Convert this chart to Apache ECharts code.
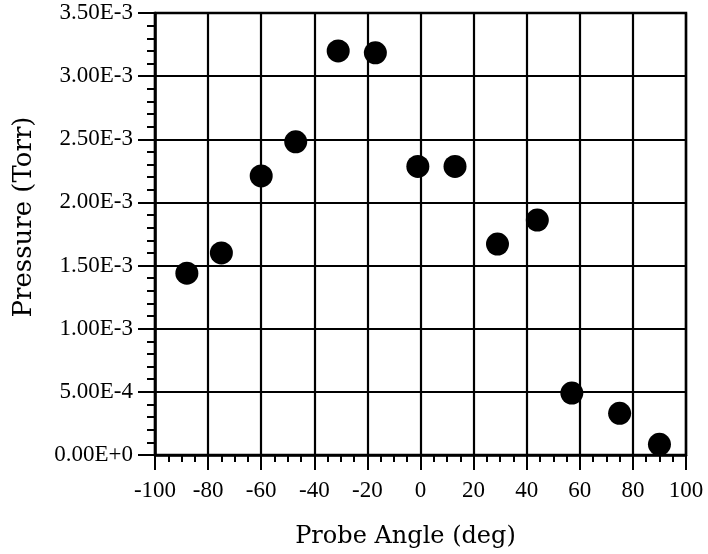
<!DOCTYPE html>
<html>
<head>
<meta charset="utf-8">
<script src="https://cdn.jsdelivr.net/npm/echarts@6/dist/echarts.min.js"></script>
<style>html,body{margin:0;padding:0;background:#fff}#c{width:708px;height:554px}</style>
</head>
<body>
<div id="c"></div>
<script>
// Data
var probeAngle = [-88, -75, -60, -47, -31, -17, -1, 13, 29, 44, 57, 75, 90];
var pressure = [1.44e-3, 1.60e-3, 2.21e-3, 2.48e-3, 3.20e-3, 3.185e-3, 2.285e-3, 2.285e-3, 1.67e-3, 1.86e-3, 4.9e-4, 3.3e-4, 8.5e-5];
var xTicks = [-100, -80, -60, -40, -20, 0, 20, 40, 60, 80, 100];
var yTickLabels = ['0.00E+0','5.00E-4','1.00E-3','1.50E-3','2.00E-3','2.50E-3','3.00E-3','3.50E-3'];

var points = probeAngle.map(function (a, i) { return [a, pressure[i]]; });
var serif = 'Liberation Serif';
var chart = echarts.init(document.getElementById('c'));
chart.setOption({
  backgroundColor: '#fff',
  animation: false,
  grid: { left: 155, right: 22, top: 13, bottom: 93, show: true, borderColor: '#000', borderWidth: 2.5 },
  xAxis: {
    type: 'value', min: -100, max: 100, interval: 20,
    name: 'Probe Angle (deg)', nameLocation: 'middle', nameGap: 70,
    nameTextStyle: { fontFamily: 'DejaVu Serif', fontSize: 24, color: '#000', padding: [0, 30, 0, 0] },
    axisLine: { show: true, onZero: false, lineStyle: { color: '#000', width: 2.5 } },
    axisTick: { show: true, inside: false, length: 15, lineStyle: { color: '#000', width: 2 } },
    minorTick: { show: true, splitNumber: 4, length: 7, lineStyle: { color: '#000', width: 2 } },
    splitLine: { show: true, lineStyle: { color: '#000', width: 2.2 } },
    axisLabel: { margin: 24, fontFamily: serif, fontSize: 23, color: '#000',
      formatter: function (v) { return xTicks.indexOf(Math.round(v)) >= 0 ? String(Math.round(v)) : ''; } }
  },
  yAxis: {
    type: 'value', min: 0, max: 0.0035, interval: 0.0005,
    name: 'Pressure (Torr)', nameLocation: 'middle', nameGap: 118, nameRotate: 90,
    nameTextStyle: { fontFamily: 'DejaVu Serif', fontSize: 26, color: '#000', padding: [0, 0, 0, 34] },
    axisLine: { show: true, onZero: false, lineStyle: { color: '#000', width: 2.5 } },
    axisTick: { show: true, inside: false, length: 17, lineStyle: { color: '#000', width: 2 } },
    minorTick: { show: true, splitNumber: 5, length: 8, lineStyle: { color: '#000', width: 2 } },
    splitLine: { show: true, lineStyle: { color: '#000', width: 2.2 } },
    axisLabel: { margin: 22, fontFamily: serif, fontSize: 23, color: '#000',
      formatter: function (v) { var i = Math.round(v / 0.0005); return yTickLabels[i] || ''; } }
  },
  series: [{
    type: 'scatter', data: points, symbol: 'circle', symbolSize: 23,
    itemStyle: { color: '#000', opacity: 1 }
  }]
});
</script>
</body>
</html>
